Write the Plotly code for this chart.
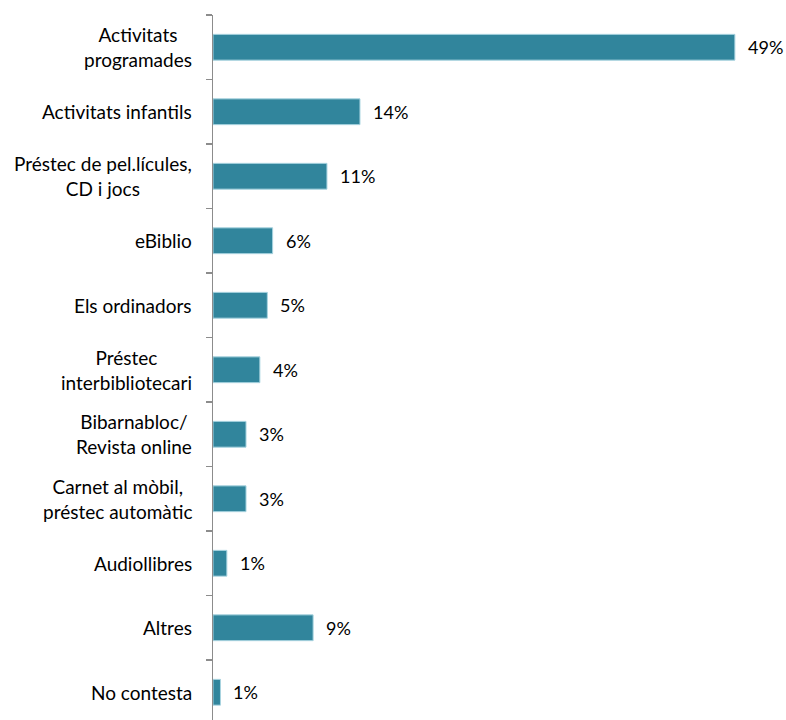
import plotly.graph_objects as go

categories = [
    "Activitats<br>programades",
    "Activitats infantils",
    "Préstec de pel.lícules,<br>CD i jocs",
    "eBiblio",
    "Els ordinadors",
    "Préstec<br>interbibliotecari",
    "Bibarnabloc/<br>Revista online",
    "Carnet al mòbil,<br>préstec automàtic",
    "Audiollibres",
    "Altres",
    "No contesta",
]
values = [49.0, 13.8, 10.7, 5.6, 5.1, 4.4, 3.1, 3.1, 1.3, 9.4, 0.7]
value_labels = ["49%", "14%", "11%", "6%", "5%", "4%", "3%", "3%", "1%", "9%", "1%"]

FONT = "Lato, 'Open Sans', sans-serif"
BAR = "#31859C"

fig = go.Figure()
fig.add_trace(go.Bar(
    y=categories,
    x=values,
    orientation="h",
    width=0.4,
    marker=dict(color=BAR, line=dict(color="#A9D4E0", width=1)),
    hoverinfo="skip",
))

annotations = []
for c, v, t in zip(categories, values, value_labels):
    annotations.append(dict(
        x=v, y=c, xref="x", yref="y", text=t, showarrow=False,
        xanchor="left", xshift=11, font=dict(family=FONT, size=18, color="#000000"),
    ))
    annotations.append(dict(
        x=0, y=c, xref="paper", yref="y", text=c, showarrow=False,
        xanchor="right", align="center", xshift=-19,
        font=dict(family=FONT, size=19, color="#000000"),
    ))

fig.update_layout(
    width=786, height=720,
    margin=dict(l=213, r=0, t=15, b=0),
    paper_bgcolor="white", plot_bgcolor="white",
    showlegend=False,
    annotations=annotations,
    xaxis=dict(range=[0, 53.8], visible=False, fixedrange=True),
    yaxis=dict(
        type="category",
        categoryorder="array", categoryarray=categories,
        range=[10.43, -0.5],
        showticklabels=False,
        showline=True, linecolor="#8C8C8C", linewidth=1.5,
        ticks="outside", tickson="boundaries", ticklen=6, tickcolor="#8C8C8C", tickwidth=1.5,
        showgrid=False, zeroline=False, fixedrange=True,
    ),
)

fig.write_html(
    "out.html",
    config={"displayModeBar": False, "staticPlot": True},
    post_script="document.body.style.margin='0';document.body.style.overflow='hidden';",
)
